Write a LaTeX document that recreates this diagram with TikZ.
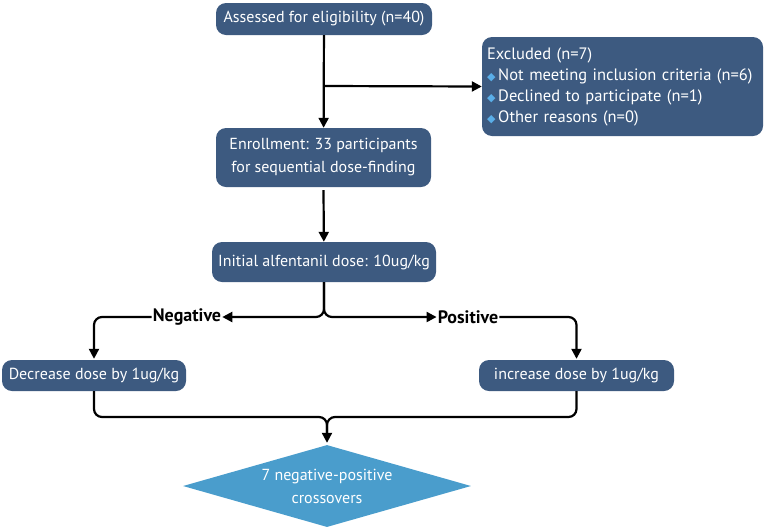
\documentclass[tikz,border=0pt]{standalone}
\usepackage{fontspec}
\setmainfont{PT Sans}
\newfontfamily\symfont{DejaVu Sans}
\usetikzlibrary{arrows.meta,shapes.geometric}
\definecolor{boxblue}{HTML}{3D5A80}
\definecolor{diablue}{HTML}{4A9DCC}
\definecolor{bulletblue}{HTML}{5AAEE8}
\newcommand{\bul}{{\symfont\color{bulletblue}\fontsize{11}{11}\selectfont ◆}\,}
\begin{document}
\begin{tikzpicture}
[   x=1pt, y=-1pt,
    >={Triangle[length=10pt,width=10pt]},
    box/.style={draw=none,fill=boxblue,text=white,rounded corners=10pt,align=center,
        font=\fontsize{16}{23}\selectfont,inner sep=0pt},
    lab/.style={font=\fontsize{18}{20}\selectfont\bfseries,inner sep=1pt},
    link/.style={line width=2.2pt, rounded corners=8pt},
]
\useasboundingbox (0,0) rectangle (767,531);

\node[box, minimum width=216pt, minimum height=32pt] (A) at (324,19) {Assessed for eligibility (n=40)};
\node[box, minimum width=281pt, minimum height=99pt, text width=271pt, align=left,
      font=\fontsize{16.5}{21}\selectfont] (X) at (622.5,86.5)
      {Excluded (n=7)\\ \bul Not meeting inclusion criteria (n=6)\\ \bul Declined to participate (n=1)\\ \bul Other reasons (n=0)};
\node[box, minimum width=215pt, minimum height=59pt] (E) at (323.5,157.5) {Enrollment: 33 participants\\for sequential dose-finding};
\node[box, minimum width=224pt, minimum height=40pt] (I) at (324,262) {Initial alfentanil dose: 10ug/kg};
\node[box, minimum width=184pt, minimum height=31pt] (D) at (94,375.5) {Decrease dose by 1ug/kg};
\node[box, minimum width=195pt, minimum height=31pt] (P) at (576.5,375.5) {increase dose by 1ug/kg};
\node[diamond, fill=diablue, text=white, aspect=3.5, minimum width=288pt, minimum height=82pt,
      inner sep=0pt, align=center, font=\fontsize{16}{23}\selectfont] (C) at (327,486)
      {7 negative-positive\\crossovers};

\node[lab] (N) at (187,317) {Negative};
\node[lab] (Q) at (468,317) {Positive};

\coordinate (b) at (323,86);
\coordinate (m) at (327,417);

\draw[->, link] (A) -- (E);
\draw[->, link] (b) -- (X.west);
\draw[->, link] ([yshift=-3pt]E.south) -- (I);

\draw[->, link] (I.south) |- (N.east);
\draw[->, link] (I.south) |- (Q.west);
\draw[->, link] (N.west) -| ([yshift=1pt]D.north);
\draw[->, link] (Q.east) -| ([yshift=1pt]P.north);

\draw[->, link] (D.south) |- (m) -- ([yshift=2pt]C.north);
\draw[link] (P.south) |- (m) -- ([yshift=12pt]C.north);

\end{tikzpicture}
\end{document}
